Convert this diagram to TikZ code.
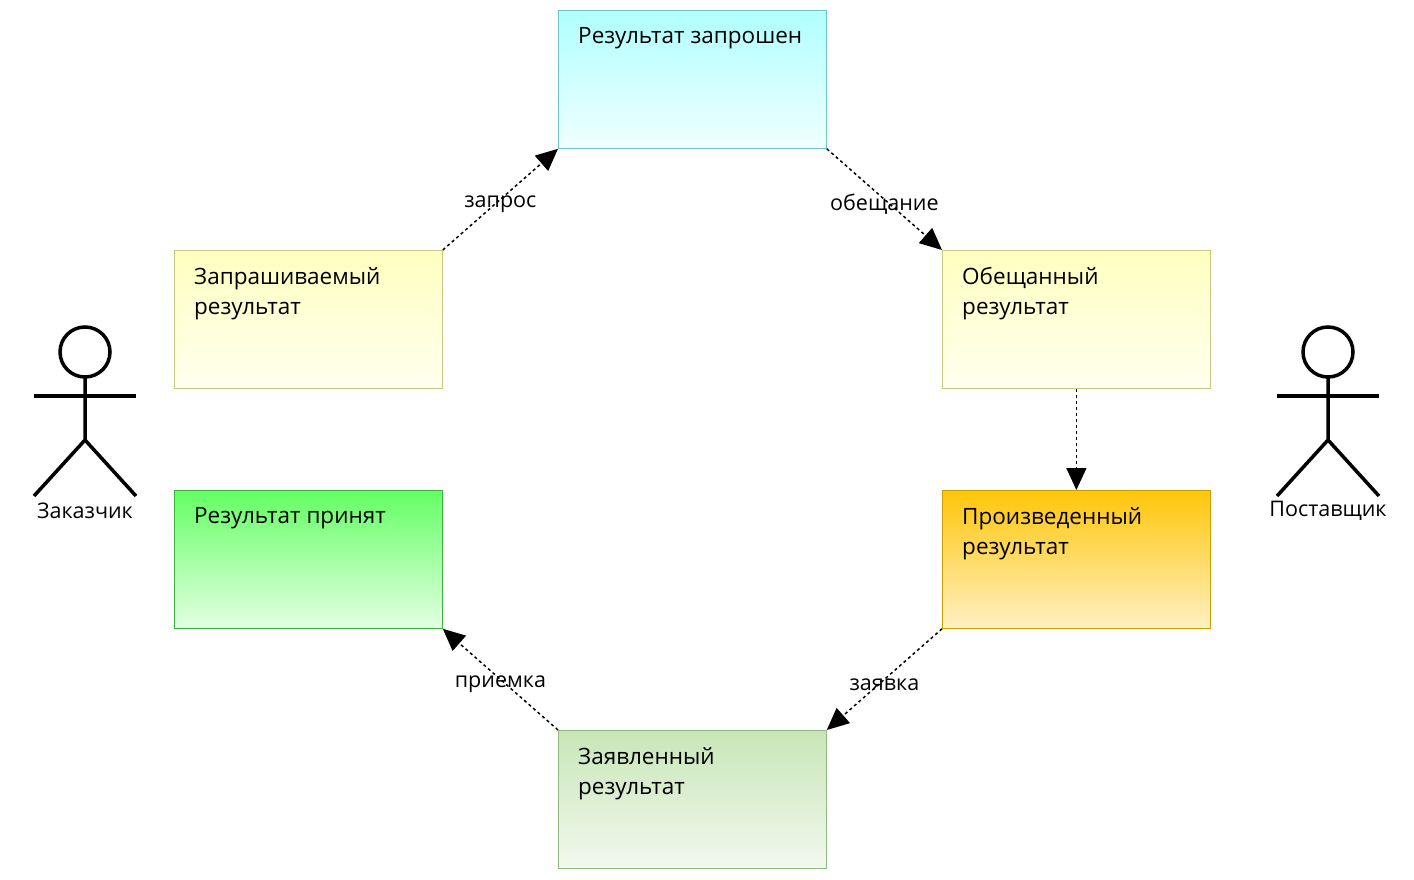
\documentclass[tikz,border=0pt]{standalone}
\usepackage{fontspec}
\setmainfont{Open Sans}
\usetikzlibrary{arrows.meta}
\begin{document}
\begin{tikzpicture}[x=1pt,y=-1pt,
  box/.style={draw=#1,line width=0.8pt,minimum width=268pt,minimum height=138pt,anchor=north west,inner sep=0pt},
  txt/.style={anchor=north west,align=left,font=\fontsize{22.5}{30}\selectfont,inner sep=0pt},
  flow/.style={line width=1.5pt,dash pattern=on 3pt off 3pt,-{Triangle[length=22pt,width=20pt]}},
  lbl/.style={font=\fontsize{21.5}{24}\selectfont,inner sep=1pt,yshift=-5pt},
  act/.style={line width=3.5pt}]
\useasboundingbox (0,0) rectangle (1414,880);
\definecolor{cyB}{HTML}{70C4C4}\definecolor{yeB}{HTML}{C8C880}
\definecolor{orB}{HTML}{C8A000}\definecolor{grB}{HTML}{40B040}\definecolor{lgB}{HTML}{90B880}
\node[box=cyB,top color={rgb,255:red,176;green,255;blue,255},bottom color={rgb,255:red,240;green,255;blue,255}] (req) at (558,10) {};
\node[box=yeB,top color={rgb,255:red,255;green,255;blue,192},bottom color={rgb,255:red,255;green,255;blue,240}] (ask) at (174,250) {};
\node[box=yeB,top color={rgb,255:red,255;green,255;blue,192},bottom color={rgb,255:red,255;green,255;blue,240}] (prom) at (942,250) {};
\node[box=orB,top color={rgb,255:red,255;green,198;blue,10},bottom color={rgb,255:red,255;green,240;blue,196}] (prod) at (942,490) {};
\node[box=grB,top color={rgb,255:red,100;green,255;blue,100},bottom color={rgb,255:red,228;green,255;blue,228}] (acc) at (174,490) {};
\node[box=lgB,top color={rgb,255:red,200;green,230;blue,184},bottom color={rgb,255:red,242;green,248;blue,238}] (decl) at (558,730) {};
\node[txt] (t1) at (578,27) {Результат запрошен};
\node[txt] (t2) at (194,267) {Запрашиваемый\\результат};
\node[txt] (t3) at (962,267) {Обещанный\\результат};
\node[txt] (t4) at (962,507) {Произведенный\\результат};
\node[txt] (t5) at (194,507) {Результат принят};
\node[txt] (t6) at (578,747) {Заявленный\\результат};
\draw[flow] (ask.north east) -- (req.south west) node[midway,lbl] {запрос};
\draw[flow] (req.south east) -- (prom.north west) node[midway,lbl] {обещание};
\draw[flow] (prom.south) -- (prod.north);
\draw[flow] (prod.south west) -- (decl.north east) node[midway,lbl] {заявка};
\draw[flow] (decl.north west) -- (acc.south east) node[midway,lbl] {приемка};
\foreach \n/\x/\l in {c/85/Заказчик,s/1328/Поставщик}{
  \draw[act] (\x,352) circle (25);
  \draw[act] (\x,377) -- (\x,440) -- (\x-51,496);
  \draw[act] (\x,440) -- (\x+51,496);
  \draw[act] (\x-51,396) -- (\x+51,396);
  \node[lbl,yshift=5pt] (\n) at (\x,511) {\l};
}
\end{tikzpicture}
\end{document}
